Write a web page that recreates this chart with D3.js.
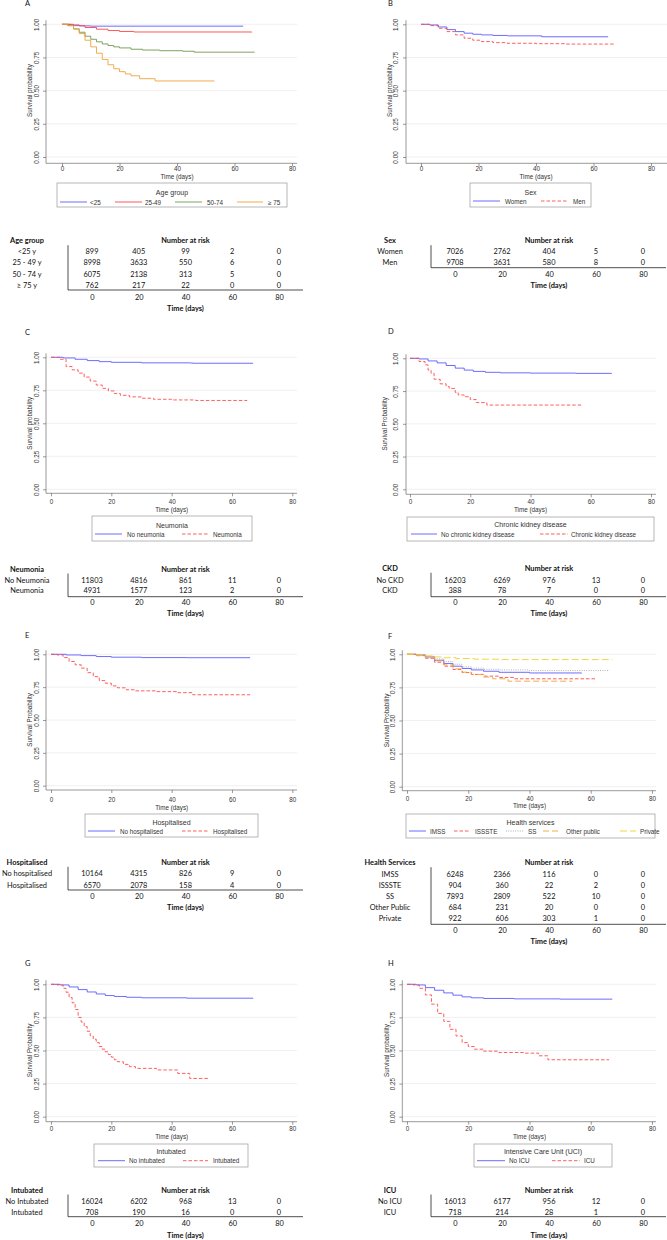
<!DOCTYPE html>
<html>
<head>
<meta charset="utf-8">
<script src="https://cdn.jsdelivr.net/npm/d3@7"></script>
<style>
  body { margin: 0; background: white; }
  svg { display: block; }
  .ax text, .ax-t { font-family: "Liberation Sans", Arial, sans-serif; font-size: 6.3px; fill: #333; }
  .leg { font-family: "Liberation Sans", Arial, sans-serif; font-size: 6.3px; fill: #333; }
  .legt { font-family: "Liberation Sans", Arial, sans-serif; font-size: 7px; fill: #333; }
  .tbl, .tbl-ax text { font-family: Lato, "Open Sans", sans-serif; font-size: 7.4px; fill: #111; }
  .bold { font-weight: bold; }
  .letter { font-family: Lato, "Liberation Sans", sans-serif; font-size: 7.5px; fill: #111; }
</style>
</head>
<body>
<svg id="fig" width="667" height="1240"></svg>
<script>
// ---- shared ticks
const timeTicks = [0, 20, 40, 60, 80];
const survTicks = [0, 0.25, 0.5, 0.75, 1];

// ---- A: age group
const ageNames = ["<25", "25-49", "50-74", "\u2265 75"];
const ageRows = ["<25 y", "25 - 49 y", "50 - 74 y", "\u2265 75 y"];
const ageRisk = [[899, 405, 99, 2, 0], [8998, 3633, 550, 6, 0], [6075, 2138, 313, 5, 0], [762, 217, 22, 0, 0]];
const ageCurves = [
  [[0,1],[3,0.995],[6,0.988],[10,0.986],[63,0.986]],
  [[0,1],[4,0.99],[8,0.976],[12,0.963],[16,0.953],[20,0.946],[25,0.942],[66,0.94]],
  [[0,1],[2,0.99],[4,0.965],[6,0.94],[8,0.91],[10,0.887],[12,0.868],[14,0.852],[16,0.84],[18,0.83],[20,0.822],[24,0.812],[28,0.806],[34,0.801],[42,0.797],[46,0.79],[67,0.79]],
  [[0,1],[2,0.99],[4,0.965],[6,0.93],[8,0.88],[10,0.83],[12,0.782],[14,0.735],[16,0.695],[18,0.665],[20,0.643],[22,0.626],[24,0.612],[27,0.59],[32.4,0.573],[53,0.573]]
];

// ---- B: sex
const sexNames = ["Women", "Men"];
const sexRisk = [[7026, 2762, 404, 5, 0], [9708, 3631, 580, 8, 0]];
const sexCurves = [
  [[0,1],[3,0.995],[6,0.98],[9,0.96],[12,0.945],[15,0.933],[18,0.925],[21,0.92],[25,0.916],[30,0.913],[42,0.906],[65,0.903]],
  [[0,1],[3,0.99],[6,0.97],[9,0.945],[12,0.92],[15,0.895],[18,0.88],[21,0.87],[25,0.862],[30,0.857],[40,0.854],[50,0.851],[67,0.849]]
];

// ---- C: neumonia
const neuNames = ["No neumonia", "Neumonia"];
const neuRows = ["No Neumonia", "Neumonia"];
const neuRisk = [[11803, 4816, 861, 11, 0], [4931, 1577, 123, 2, 0]];
const neuCurves = [
  [[0,1],[4,0.995],[8,0.985],[12,0.975],[16,0.967],[20,0.962],[30,0.958],[46,0.957],[47,0.955],[67,0.955]],
  [[0,1],[3,0.985],[5,0.93],[7,0.905],[9,0.88],[11,0.85],[13,0.82],[15,0.79],[17,0.765],[19,0.745],[21,0.725],[23,0.712],[26,0.7],[30,0.69],[34,0.682],[40,0.677],[48,0.673],[65,0.671]]
];

// ---- D: chronic kidney disease
const ckdNames = ["No chronic kidney disease", "Chronic kidney disease"];
const ckdRows = ["No CKD", "CKD"];
const ckdRisk = [[16203, 6269, 976, 13, 0], [388, 78, 7, 0, 0]];
const ckdCurves = [
  [[0,1],[3,0.995],[6,0.98],[9,0.965],[12,0.945],[15,0.925],[18,0.91],[21,0.9],[25,0.893],[30,0.889],[40,0.887],[55,0.885],[67,0.885]],
  [[0,1],[3,0.975],[5,0.95],[6,0.91],[7,0.885],[8,0.84],[10,0.805],[12,0.785],[13,0.77],[15,0.74],[16,0.72],[18,0.707],[20,0.685],[22,0.662],[25.5,0.643],[57,0.643]]
];

// ---- E: hospitalised
const hosNames = ["No hospitalised", "Hospitalised"];
const hosRisk = [[10164, 4315, 826, 9, 0], [6570, 2078, 158, 4, 0]];
const hosCurves = [
  [[0,1],[5,0.995],[10,0.99],[15,0.983],[20,0.978],[30,0.975],[45,0.974],[66,0.974]],
  [[0,1],[2,0.995],[4,0.975],[6,0.945],[8,0.92],[10,0.895],[12,0.86],[14,0.83],[16,0.8],[18,0.78],[20,0.76],[22,0.745],[25,0.73],[28,0.722],[35,0.716],[42,0.708],[47,0.692],[66,0.692]]
];

// ---- F: health services
const hsNames = ["IMSS", "ISSSTE", "SS", "Other public", "Private"];
const hsRows = ["IMSS", "ISSSTE", "SS", "Other Public", "Private"];
const hsRisk = [[6248, 2366, 116, 0, 0], [904, 360, 22, 2, 0], [7893, 2809, 522, 10, 0], [684, 231, 20, 0, 0], [922, 606, 303, 1, 0]];
const hsCurves = [
  [[0,1],[3,0.995],[6,0.98],[9,0.955],[12,0.93],[15,0.91],[18,0.893],[21,0.882],[25,0.872],[30,0.864],[40,0.859],[57,0.857]],
  [[0,1],[3,0.99],[6,0.97],[9,0.94],[12,0.91],[15,0.885],[18,0.862],[21,0.848],[25,0.835],[30,0.825],[35,0.815],[62,0.815]],
  [[0,1],[3,0.995],[6,0.985],[9,0.965],[12,0.945],[15,0.925],[18,0.905],[21,0.895],[25,0.887],[30,0.882],[40,0.877],[66,0.874]],
  [[0,1],[3,0.99],[6,0.975],[9,0.95],[12,0.92],[15,0.89],[18,0.865],[21,0.848],[25,0.828],[28,0.815],[33,0.797],[54,0.797]],
  [[0,1],[3,0.995],[6,0.988],[9,0.98],[12,0.974],[16,0.968],[22,0.963],[30,0.96],[67,0.957]]
];

// ---- G: intubated
const intNames = ["No intubated", "Intubated"];
const intRows = ["No Intubated", "Intubated"];
const intRisk = [[16024, 6202, 968, 13, 0], [708, 190, 16, 0, 0]];
const intCurves = [
  [[0,1],[3,0.995],[6,0.98],[9,0.96],[12,0.942],[15,0.927],[18,0.915],[21,0.908],[25,0.902],[30,0.898],[45,0.895],[67,0.894]],
  [[0,1],[2,0.995],[4,0.97],[5,0.94],[6,0.9],[7,0.86],[8,0.81],[9,0.75],[10,0.715],[11,0.68],[12,0.645],[13,0.61],[14,0.585],[15,0.56],[16,0.53],[17,0.51],[18,0.49],[19,0.47],[20,0.45],[21,0.43],[22,0.415],[24,0.395],[26,0.378],[28,0.365],[35,0.353],[42,0.327],[46,0.289],[52,0.289]]
];

// ---- H: ICU
const icuNames = ["No ICU", "ICU"];
const icuRisk = [[16013, 6177, 956, 12, 0], [718, 214, 28, 1, 0]];
const icuCurves = [
  [[0,1],[3,0.995],[6,0.975],[9,0.955],[12,0.935],[15,0.918],[18,0.905],[21,0.898],[25,0.893],[35,0.89],[50,0.888],[67,0.887]],
  [[0,1],[2,0.995],[4,0.97],[6,0.92],[8,0.85],[10,0.78],[12,0.72],[14,0.66],[16,0.61],[18,0.56],[20,0.53],[22,0.51],[25,0.495],[30,0.485],[38,0.48],[43,0.46],[46,0.43],[66,0.43]]
];

// ---- line styles
const st = {
  blue:   { color: "#5c5cff", dash: null },
  redS:   { color: "#ff4545", dash: null },
  red:    { color: "#ff4d4d", dash: "3.5,2" },
  green:  { color: "#6f9a4e", dash: null },
  orange: { color: "#f2a33a", dash: null },
  gray:   { color: "#a8a8a8", dash: "1,1.3" },
  orangeL:{ color: "#f2a33a", dash: "6,3" },
  yellow: { color: "#f3cf2a", dash: "7,3" }
};

// ---- layout
const colL = { letterX: 25, axisX: 46, tickLabX: 36.5, titleX: 29.3, gridEnd: 297, tLabX: 27, tVx: 68, tEnd: 303, tCols: [92, 279] };
const colR = { letterX: 388, axisX: 406, tickLabX: 396, titleX: 389.7, gridEnd: 656, tLabX: 390, tVx: 431, tEnd: 666, tCols: [455, 643] };

const panels = [
  { letter: "A", col: colL, yTitle: "Survival probability", names: ageNames, rows: ageRows, risk: ageRisk, curves: ageCurves,
    styles: [st.blue, st.redS, st.green, st.orange], legTitle: "Age group", rowHead: "Age group",
    g: { letterY: 3.5, x0: 62, x80: 292, yt: 24.3, yb: 157, axY: 163.3, tickY: 168.3, timeY: 176.7,
         leg: [57, 183, 287, 207], legTitleY: 192, legItemY: 202, items: [[60,87,90],[115,142,145],[175,202,207],[237,263,268]],
         hdrY: 240.7, rowYs: [251.7, 262.7, 274, 285], lineY: 290, tTickY: 297.7, tTimeY: 308.3 } },
  { letter: "B", col: colR, yTitle: "Survival probability", names: sexNames, rows: sexNames, risk: sexRisk, curves: sexCurves,
    styles: [st.blue, st.red], legTitle: "Sex", rowHead: "Sex",
    g: { letterY: 3.5, x0: 421, x80: 651, yt: 24.3, yb: 157, axY: 163.3, tickY: 168.3, timeY: 176.7, gridEnd: 667,
         leg: [470, 183, 591, 207], legTitleY: 192, legItemY: 201, items: [[473,500,505],[541,568,573]],
         hdrY: 240.7, rowYs: [251.7, 262.7], lineY: 267.7, tTickY: 274.3, tTimeY: 285.7 } },
  { letter: "C", col: colL, yTitle: "Survival probability", names: neuNames, rows: neuRows, risk: neuRisk, curves: neuCurves,
    styles: [st.blue, st.red], legTitle: "Neumonia", rowHead: "Neumonia",
    g: { letterY: 332, x0: 51, x80: 292.3, yt: 357.3, yb: 489.3, axY: 493.3, tickY: 501.7, timeY: 509.3,
         leg: [92, 516, 252, 541], legTitleY: 525, legItemY: 534, items: [[95,122,127],[182,208,213]],
         hdrY: 569, rowYs: [580, 590.7], lineY: 596.7, tTickY: 602.5, tTimeY: 613.3 } },
  { letter: "D", col: colR, yTitle: "Survival Probability", names: ckdNames, rows: ckdRows, risk: ckdRisk, curves: ckdCurves,
    styles: [st.blue, st.red], legTitle: "Chronic kidney disease", rowHead: "CKD",
    g: { letterY: 331, x0: 410, x80: 651, yt: 358.3, yb: 489.3, axY: 494.3, tickY: 501.7, timeY: 509,
         titleX: 384.7, leg: [407, 517, 654, 541], legTitleY: 524.3, legItemY: 534, items: [[411,437,441],[540,568,571]],
         hdrY: 568.3, rowYs: [580, 590.7], lineY: 596.7, tTickY: 602.5, tTimeY: 613.3 } },
  { letter: "E", col: colL, yTitle: "Survival Probability", names: hosNames, rows: hosNames, risk: hosRisk, curves: hosCurves,
    styles: [st.blue, st.red], legTitle: "Hospitalised", rowHead: "Hospitalised",
    g: { letterY: 635, x0: 51, x80: 292.3, yt: 654.3, yb: 785.7, axY: 790, tickY: 799, timeY: 807,
         leg: [85, 814, 258, 837], legTitleY: 822, legItemY: 831, items: [[88,115,120],[182,208,213]],
         hdrY: 862.3, rowYs: [873.7, 885], lineY: 890, tTickY: 896.7, tTimeY: 907.3 } },
  { letter: "F", col: colR, yTitle: "Survival Probability", names: hsNames, rows: hsRows, risk: hsRisk, curves: hsCurves,
    styles: [st.blue, st.red, st.gray, st.orangeL, st.yellow], legTitle: "Health services", rowHead: "Health Services",
    g: { letterY: 636, x0: 407, x80: 652, yt: 654.3, yb: 786.7, axY: 790.7, tickY: 798.3, timeY: 805.7,
         axisX: 402.3, tickLabX: 393, titleX: 386,
         leg: [406, 814, 655, 838], legTitleY: 822, legItemY: 831, items: [[409,426,430],[454,470,475],[506,523,528],[543,561,566],[620,636,640]],
         hdrY: 862.7, rowYs: [874, 885, 896.7, 907.7, 918.7], lineY: 924.3, tTickY: 930.7, tTimeY: 941.7 } },
  { letter: "G", col: colL, yTitle: "Survival Probability", names: intNames, rows: intRows, risk: intRisk, curves: intCurves,
    styles: [st.blue, st.red], legTitle: "Intubated", rowHead: "Intubated",
    g: { letterY: 963, x0: 51, x80: 292.3, yt: 984.3, yb: 1116.7, axY: 1121.7, tickY: 1128.3, timeY: 1136.7,
         leg: [94, 1144, 248, 1167], legTitleY: 1151, legItemY: 1160.7, items: [[98,125,129],[183,208,213]],
         hdrY: 1190, rowYs: [1201.7, 1212.7], lineY: 1216.7, tTickY: 1223.3, tTimeY: 1235 } },
  { letter: "H", col: colR, yTitle: "Survival probability", names: icuNames, rows: icuNames, risk: icuRisk, curves: icuCurves,
    styles: [st.blue, st.red], legTitle: "Intensive Care Unit (UCI)", rowHead: "ICU",
    g: { letterY: 963, x0: 407, x80: 652, yt: 984.3, yb: 1116.7, axY: 1121.7, tickY: 1128.3, timeY: 1136.7,
         axisX: 402.3, tickLabX: 393, titleX: 386,
         leg: [474, 1144, 612, 1167], legTitleY: 1151, legItemY: 1160.7, items: [[477,505,509],[552,580,584]],
         hdrY: 1190, rowYs: [1201.7, 1212.7], lineY: 1216.7, tTickY: 1223.3, tTimeY: 1235 } }
];

const svg = d3.select("#fig");

function drawPanel(p) {
  let c = Object.assign({}, p.col, p.g);
  let g = svg.append("g");

  g.append("text").attr("class", "letter")
    .attr("x", c.letterX).attr("y", c.letterY).attr("dominant-baseline", "central")
    .text(p.letter);

  let x = d3.scaleLinear().domain([0, 80]).range([c.x0, c.x80]);
  let y = d3.scaleLinear().domain([0, 1]).range([c.yb, c.yt]);

  // grid lines
  g.selectAll(".grid").data(survTicks).enter().append("line")
    .attr("x1", c.axisX).attr("x2", c.gridEnd)
    .attr("y1", d => y(d)).attr("y2", d => y(d))
    .attr("stroke", "#ececec").attr("stroke-width", 0.8);

  // y axis
  let yAxis = g.append("g").attr("class", "ax")
    .attr("transform", `translate(${c.axisX},0)`)
    .call(d3.axisLeft(y).tickValues(survTicks).tickFormat(d3.format(".2f")).tickSize(3));
  yAxis.select(".domain").remove();
  yAxis.selectAll("line").attr("stroke", "#555").attr("stroke-width", 0.6);
  yAxis.selectAll("text")
    .attr("x", 0).attr("dy", null)
    .attr("y", -(c.axisX - c.tickLabX - 2.2))
    .attr("text-anchor", "middle")
    .attr("transform", "rotate(-90)");
  g.append("line").attr("x1", c.axisX).attr("x2", c.axisX)
    .attr("y1", c.yt - 4).attr("y2", c.axY)
    .attr("stroke", "#555").attr("stroke-width", 0.6);

  g.append("text").attr("class", "ax-t")
    .attr("transform", `translate(${c.titleX},${(c.yt + c.yb) / 2}) rotate(-90)`)
    .attr("text-anchor", "middle").attr("dominant-baseline", "central")
    .text(p.yTitle);

  // x axis
  let xAxis = g.append("g").attr("class", "ax")
    .attr("transform", `translate(0,${c.axY})`)
    .call(d3.axisBottom(x).tickValues(timeTicks).tickSize(3).tickPadding(1));
  xAxis.select(".domain").remove();
  xAxis.selectAll("line").attr("stroke", "#555").attr("stroke-width", 0.6);
  xAxis.selectAll("text").attr("y", c.tickY - c.axY).attr("dy", null).attr("dominant-baseline", "central");
  g.append("line").attr("x1", c.axisX).attr("x2", c.gridEnd)
    .attr("y1", c.axY).attr("y2", c.axY)
    .attr("stroke", "#555").attr("stroke-width", 0.6);
  g.append("text").attr("class", "ax-t")
    .attr("x", x(40)).attr("y", c.timeY)
    .attr("text-anchor", "middle").attr("dominant-baseline", "central")
    .text("Time (days)");

  // survival curves
  let line = d3.line().x(d => x(d[0])).y(d => y(d[1])).curve(d3.curveStepAfter);
  g.selectAll(".curve").data(p.curves).enter().append("path")
    .attr("d", line)
    .attr("fill", "none")
    .attr("stroke", (d, i) => p.styles[i].color)
    .attr("stroke-width", 0.9)
    .attr("stroke-dasharray", (d, i) => p.styles[i].dash);

  // legend
  let L = c.leg;
  g.append("rect").attr("x", L[0]).attr("y", L[1])
    .attr("width", L[2] - L[0]).attr("height", L[3] - L[1])
    .attr("fill", "white").attr("stroke", "#999").attr("stroke-width", 0.7);
  g.append("text").attr("class", "legt")
    .attr("x", (L[0] + L[2]) / 2).attr("y", c.legTitleY)
    .attr("text-anchor", "middle").attr("dominant-baseline", "central")
    .text(p.legTitle);
  p.names.forEach((name, i) => {
    let it = c.items[i];
    g.append("line").attr("x1", it[0]).attr("x2", it[1])
      .attr("y1", c.legItemY).attr("y2", c.legItemY)
      .attr("stroke", p.styles[i].color).attr("stroke-width", 0.9)
      .attr("stroke-dasharray", p.styles[i].dash);
    g.append("text").attr("class", "leg")
      .attr("x", it[2]).attr("y", c.legItemY).attr("dominant-baseline", "central")
      .text(name);
  });

  // risk table
  let t = d3.scaleLinear().domain([0, 80]).range(c.tCols);
  g.append("text").attr("class", "tbl bold")
    .attr("x", c.tLabX).attr("y", c.hdrY)
    .attr("text-anchor", "middle").attr("dominant-baseline", "central")
    .text(p.rowHead);
  g.append("text").attr("class", "tbl bold")
    .attr("x", t(40)).attr("y", c.hdrY)
    .attr("text-anchor", "middle").attr("dominant-baseline", "central")
    .text("Number at risk");
  p.rows.forEach((r, i) => {
    g.append("text").attr("class", "tbl")
      .attr("x", c.tLabX).attr("y", c.rowYs[i])
      .attr("text-anchor", "middle").attr("dominant-baseline", "central")
      .text(r);
    g.selectAll(null).data(p.risk[i]).enter().append("text").attr("class", "tbl")
      .attr("x", (d, j) => t(timeTicks[j])).attr("y", c.rowYs[i])
      .attr("text-anchor", "middle").attr("dominant-baseline", "central")
      .text(d => d);
  });
  g.append("line").attr("x1", c.tVx).attr("x2", c.tVx)
    .attr("y1", c.hdrY + 4.5).attr("y2", c.lineY)
    .attr("stroke", "#222").attr("stroke-width", 0.8);
  g.append("line").attr("x1", c.tVx).attr("x2", c.tEnd)
    .attr("y1", c.lineY).attr("y2", c.lineY)
    .attr("stroke", "#222").attr("stroke-width", 0.8);
  let tAxis = g.append("g").attr("class", "tbl-ax")
    .attr("transform", `translate(0,${c.lineY})`)
    .call(d3.axisBottom(t).tickValues(timeTicks).tickSize(0));
  tAxis.select(".domain").remove();
  tAxis.selectAll("text").attr("y", c.tTickY - c.lineY).attr("dy", null).attr("dominant-baseline", "central");
  g.append("text").attr("class", "tbl bold")
    .attr("x", t(40)).attr("y", c.tTimeY)
    .attr("text-anchor", "middle").attr("dominant-baseline", "central")
    .text("Time (days)");
}

panels.forEach(drawPanel);
</script>
</body>
</html>
